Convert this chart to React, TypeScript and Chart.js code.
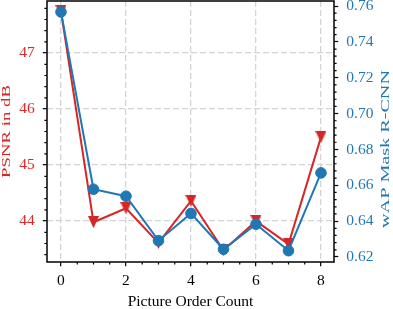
import { useEffect, useRef } from 'react';
import { Chart, registerables } from 'chart.js';

Chart.register(...registerables);

// ---- data ----
const pictureOrderCount = [0, 1, 2, 3, 4, 5, 6, 7, 8];
const psnrValues = [47.75, 43.98, 44.23, 43.61, 44.36, 43.48, 44.0, 43.59, 45.5];
const wapValues = [0.7567, 0.6578, 0.6539, 0.6291, 0.6443, 0.6243, 0.6383, 0.6235, 0.6669];

const xTitle = 'Picture Order Count';
const leftTitle = 'PSNR in dB';
const rightTitle = 'wAP Mask R-CNN';

const RED = '#d62728';
const BLUE = '#1f77b4';
const FONT = '"Liberation Serif", "DejaVu Serif", serif';

export default function App() {
  const ref = useRef<HTMLCanvasElement>(null);

  useEffect(() => {
    document.body.style.margin = '0';
    const canvas = ref.current;
    if (!canvas) return;

    // matplotlib-like 'v' marker
    const tri = document.createElement('canvas');
    tri.width = 11;
    tri.height = 12;
    const tctx = tri.getContext('2d')!;
    tctx.fillStyle = RED;
    tctx.beginPath();
    tctx.moveTo(0, 0);
    tctx.lineTo(11, 0);
    tctx.lineTo(5.5, 12);
    tctx.closePath();
    tctx.fill();

    const framePlugin = {
      id: 'frameAndMinor',
      beforeDatasetsDraw(chart: any) {
        const { ctx, chartArea: a, scales } = chart;
        ctx.save();
        ctx.strokeStyle = '#000';
        ctx.lineWidth = 1.2;
        ctx.beginPath();
        const xs = scales.x;
        for (let i = 1; i <= 16; i++) {
          const v = i * 0.5;
          if (i % 4 === 0) continue;
          if (v < xs.min || v > xs.max) continue;
          const px = xs.getPixelForValue(v);
          ctx.moveTo(px, a.bottom);
          ctx.lineTo(px, a.bottom + 2.6);
        }
        const yl = scales.y;
        for (let i = 0; i <= 30; i++) {
          const v = 43 + i * 0.2;
          if (i % 5 === 0) continue;
          if (v < yl.min || v > yl.max) continue;
          const py = yl.getPixelForValue(v);
          ctx.moveTo(a.left, py);
          ctx.lineTo(a.left - 2.6, py);
        }
        const yr = scales.y2;
        for (let i = 0; i <= 45; i++) {
          const v = 0.6 + i * 0.004;
          if (i % 5 === 0) continue;
          if (v < yr.min || v > yr.max) continue;
          const py = yr.getPixelForValue(v);
          ctx.moveTo(a.right, py);
          ctx.lineTo(a.right + 2.6, py);
        }
        ctx.stroke();
        ctx.lineWidth = 1.5;
        ctx.strokeRect(a.left, a.top, a.right - a.left, a.bottom - a.top);
        ctx.restore();
      },
      afterDraw(chart: any) {
        const { ctx, chartArea: a } = chart;
        ctx.save();
        ctx.fillStyle = '#000';
        ctx.font = `15.5px ${FONT}`;
        ctx.textAlign = 'center';
        ctx.textBaseline = 'alphabetic';
        ctx.fillText(xTitle, (a.left + a.right) / 2, 305.5);

        const drawVertical = (text: string, color: string, size: number, bx: number, cy: number, len: number) => {
          ctx.save();
          ctx.fillStyle = color;
          ctx.font = `${size}px ${FONT}`;
          ctx.textAlign = 'center';
          ctx.textBaseline = 'alphabetic';
          const w = ctx.measureText(text).width;
          ctx.translate(bx, cy);
          ctx.rotate(-Math.PI / 2);
          ctx.scale(len / w, 1);
          ctx.fillText(text, 0, 0);
          ctx.restore();
        };
        drawVertical(leftTitle, RED, 11.5, 9.5, 131.5, 93);
        drawVertical(rightTitle, BLUE, 13, 388.5, 149, 158);
        ctx.restore();
      },
    };

    const chart = new Chart(canvas, {
      type: 'line',
      data: {
        datasets: [
          {
            label: rightTitle,
            data: pictureOrderCount.map((x, i) => ({ x, y: wapValues[i] })),
            yAxisID: 'y2',
            borderColor: BLUE,
            backgroundColor: BLUE,
            borderWidth: 2,
            pointRadius: 5.3,
            pointBackgroundColor: BLUE,
            pointBorderColor: BLUE,
            pointBorderWidth: 1,
            tension: 0,
          },
          {
            label: leftTitle,
            data: pictureOrderCount.map((x, i) => ({ x, y: psnrValues[i] })),
            yAxisID: 'y',
            borderColor: RED,
            backgroundColor: RED,
            borderWidth: 2,
            pointRadius: 6,
            pointStyle: tri as any,
            tension: 0,
          },
        ],
      },
      options: {
        animation: false,
        responsive: false,
        devicePixelRatio: 1,
        layout: { autoPadding: false, padding: { top: 1, left: 0, right: 0, bottom: 0 } },
        plugins: { legend: { display: false }, tooltip: { enabled: false } },
        scales: {
          x: {
            type: 'linear',
            position: 'bottom',
            min: -0.43,
            max: 8.4,
            afterFit: (s: any) => { s.height = 47; s.paddingLeft = 0; s.paddingRight = 0; },
            ticks: {
              stepSize: 2,
              includeBounds: false,
              color: '#000',
              font: { family: FONT, size: 15.5 },
              padding: 5,
              maxRotation: 0,
            },
            grid: {
              color: '#d4d4d4',
              lineWidth: 1.3,
              tickColor: '#000',
              tickLength: 4.3,
              tickWidth: 1.2,
            },
            border: { display: false, dash: [6, 3] },
          },
          y: {
            type: 'linear',
            position: 'left',
            min: 43.27,
            max: 47.93,
            afterFit: (s: any) => { s.width = 47; s.paddingTop = 0; s.paddingBottom = 0; },
            ticks: {
              stepSize: 1,
              includeBounds: false,
              color: RED,
              font: { family: FONT, size: 15.5 },
              padding: 8,
            },
            grid: {
              color: '#d4d4d4',
              lineWidth: 1.3,
              tickColor: '#000',
              tickLength: 4.3,
              tickWidth: 1.2,
            },
            border: { display: false, dash: [6, 3] },
          },
          y2: {
            type: 'linear',
            position: 'right',
            min: 0.6172,
            max: 0.7628,
            afterFit: (s: any) => { s.width = 59; s.paddingTop = 0; s.paddingBottom = 0; },
            ticks: {
              stepSize: 0.02,
              includeBounds: false,
              color: BLUE,
              font: { family: FONT, size: 15.5 },
              padding: 8,
              callback: (v: any) => Number(v).toFixed(2),
            },
            grid: {
              drawOnChartArea: false,
              tickColor: '#000',
              tickLength: 4.3,
              tickWidth: 1.2,
            },
            border: { display: false },
          },
        },
      },
      plugins: [framePlugin],
    });

    return () => chart.destroy();
  }, []);

  return <canvas ref={ref} width={393} height={309} style={{ display: 'block' }} />;
}
